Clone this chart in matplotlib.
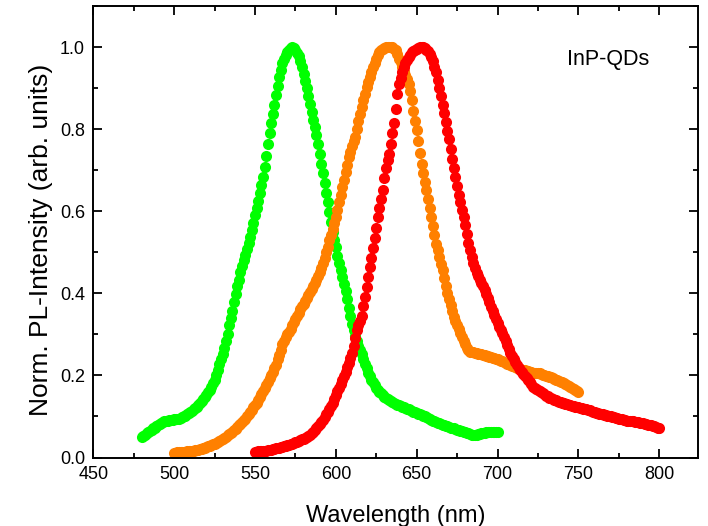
import numpy as np
import matplotlib
matplotlib.use("Agg")
import matplotlib.pyplot as plt
from matplotlib.ticker import MultipleLocator, FormatStrFormatter

plt.rcParams['font.family'] = ['Liberation Sans', 'DejaVu Sans']

# Normalised PL spectra of three InP quantum-dot samples (1 nm steps)
wl_green = np.arange(480, 701)
pl_green = [
    0.050, 0.053, 0.056, 0.059, 0.062, 0.065, 0.068, 0.071, 0.073, 0.076,
    0.078, 0.081, 0.084, 0.087, 0.088, 0.089, 0.090, 0.091, 0.092, 0.092,
    0.093, 0.093, 0.094, 0.095, 0.096, 0.098, 0.100, 0.102, 0.105, 0.108,
    0.111, 0.114, 0.117, 0.120, 0.124, 0.128, 0.133, 0.138, 0.143, 0.148,
    0.153, 0.159, 0.165, 0.172, 0.181, 0.190, 0.200, 0.213, 0.227, 0.240,
    0.253, 0.268, 0.285, 0.302, 0.322, 0.340, 0.358, 0.378, 0.398, 0.418,
    0.432, 0.452, 0.466, 0.480, 0.494, 0.508, 0.522, 0.538, 0.555, 0.572,
    0.590, 0.607, 0.625, 0.645, 0.664, 0.684, 0.708, 0.735, 0.765, 0.790,
    0.815, 0.838, 0.860, 0.883, 0.905, 0.926, 0.945, 0.960, 0.972, 0.981,
    0.988, 0.994, 0.998, 1.000, 0.998, 0.993, 0.986, 0.978, 0.966, 0.951,
    0.935, 0.918, 0.900, 0.881, 0.862, 0.842, 0.822, 0.804, 0.785, 0.763,
    0.740, 0.716, 0.692, 0.668, 0.645, 0.622, 0.598, 0.574, 0.550, 0.531,
    0.512, 0.492, 0.473, 0.456, 0.440, 0.422, 0.405, 0.385, 0.365, 0.345,
    0.325, 0.310, 0.295, 0.283, 0.272, 0.262, 0.252, 0.240, 0.228, 0.217,
    0.207, 0.198, 0.190, 0.183, 0.176, 0.170, 0.165, 0.160, 0.156, 0.152,
    0.148, 0.145, 0.142, 0.140, 0.137, 0.135, 0.133, 0.131, 0.129, 0.127,
    0.125, 0.123, 0.122, 0.120, 0.118, 0.117, 0.115, 0.113, 0.112, 0.110,
    0.108, 0.106, 0.105, 0.103, 0.102, 0.100, 0.098, 0.096, 0.094, 0.092,
    0.090, 0.088, 0.087, 0.085, 0.083, 0.082, 0.080, 0.079, 0.077, 0.076,
    0.075, 0.073, 0.072, 0.071, 0.069, 0.068, 0.067, 0.065, 0.064, 0.062,
    0.061, 0.060, 0.059, 0.058, 0.056, 0.055, 0.055, 0.056, 0.057, 0.058,
    0.059, 0.059, 0.060, 0.061, 0.061, 0.062, 0.062, 0.062, 0.063, 0.063, 0.063,
]

wl_orange = np.arange(500, 751)
pl_orange = [
    0.012, 0.012, 0.013, 0.013, 0.013, 0.014, 0.014, 0.014, 0.015, 0.015,
    0.016, 0.016, 0.017, 0.018, 0.018, 0.019, 0.020, 0.021, 0.022, 0.024,
    0.025, 0.027, 0.028, 0.030, 0.032, 0.034, 0.036, 0.038, 0.041, 0.043,
    0.045, 0.048, 0.051, 0.054, 0.057, 0.060, 0.063, 0.066, 0.070, 0.074,
    0.078, 0.082, 0.086, 0.091, 0.095, 0.100, 0.105, 0.110, 0.116, 0.122,
    0.128, 0.134, 0.141, 0.148, 0.155, 0.162, 0.169, 0.177, 0.185, 0.193,
    0.201, 0.209, 0.217, 0.226, 0.240, 0.250, 0.262, 0.276, 0.285, 0.293,
    0.300, 0.307, 0.314, 0.322, 0.329, 0.337, 0.345, 0.353, 0.361, 0.368,
    0.375, 0.382, 0.389, 0.396, 0.403, 0.410, 0.417, 0.424, 0.433, 0.442,
    0.452, 0.462, 0.473, 0.486, 0.500, 0.514, 0.529, 0.543, 0.557, 0.571,
    0.586, 0.604, 0.622, 0.640, 0.659, 0.677, 0.695, 0.713, 0.732, 0.745,
    0.760, 0.772, 0.781, 0.800, 0.820, 0.838, 0.855, 0.870, 0.886, 0.903,
    0.915, 0.927, 0.940, 0.951, 0.961, 0.970, 0.980, 0.988, 0.993, 0.996,
    0.998, 1.000, 1.000, 1.000, 1.000, 0.999, 0.996, 0.992, 0.984, 0.972,
    0.963, 0.952, 0.942, 0.931, 0.921, 0.911, 0.892, 0.870, 0.845, 0.821,
    0.797, 0.770, 0.743, 0.716, 0.694, 0.672, 0.651, 0.629, 0.608, 0.586,
    0.565, 0.543, 0.521, 0.505, 0.489, 0.472, 0.456, 0.437, 0.418, 0.400,
    0.386, 0.372, 0.357, 0.343, 0.333, 0.323, 0.313, 0.303, 0.294, 0.285,
    0.276, 0.268, 0.261, 0.258, 0.257, 0.256, 0.255, 0.254, 0.253, 0.252,
    0.251, 0.250, 0.249, 0.248, 0.247, 0.246, 0.245, 0.243, 0.242, 0.240,
    0.239, 0.237, 0.235, 0.234, 0.232, 0.230, 0.229, 0.227, 0.226, 0.224,
    0.223, 0.221, 0.219, 0.218, 0.216, 0.214, 0.213, 0.212, 0.211, 0.210,
    0.209, 0.208, 0.207, 0.207, 0.206, 0.206, 0.205, 0.204, 0.202, 0.201,
    0.199, 0.198, 0.196, 0.195, 0.193, 0.192, 0.190, 0.189, 0.187, 0.185,
    0.183, 0.181, 0.179, 0.177, 0.174, 0.172, 0.170, 0.168, 0.165, 0.163, 0.160,
]

wl_red = np.arange(550, 801)
pl_red = [
    0.014, 0.014, 0.015, 0.015, 0.016, 0.016, 0.017, 0.017, 0.018, 0.019,
    0.019, 0.020, 0.021, 0.022, 0.023, 0.024, 0.025, 0.026, 0.027, 0.029,
    0.030, 0.031, 0.032, 0.034, 0.035, 0.037, 0.038, 0.040, 0.042, 0.044,
    0.046, 0.048, 0.050, 0.052, 0.055, 0.059, 0.063, 0.067, 0.072, 0.077,
    0.082, 0.086, 0.091, 0.098, 0.105, 0.112, 0.119, 0.126, 0.133, 0.143,
    0.152, 0.161, 0.170, 0.179, 0.188, 0.198, 0.209, 0.220, 0.231, 0.243,
    0.254, 0.272, 0.291, 0.310, 0.322, 0.333, 0.345, 0.368, 0.391, 0.415,
    0.440, 0.464, 0.487, 0.511, 0.535, 0.559, 0.586, 0.608, 0.630, 0.651,
    0.680, 0.705, 0.725, 0.740, 0.765, 0.790, 0.815, 0.850, 0.885, 0.910,
    0.925, 0.940, 0.951, 0.960, 0.968, 0.975, 0.981, 0.987, 0.991, 0.994,
    0.996, 0.998, 0.999, 1.000, 0.999, 0.997, 0.994, 0.990, 0.984, 0.976,
    0.965, 0.952, 0.938, 0.920, 0.900, 0.880, 0.860, 0.840, 0.818, 0.796,
    0.775, 0.752, 0.728, 0.705, 0.683, 0.662, 0.640, 0.622, 0.604, 0.586,
    0.567, 0.545, 0.522, 0.505, 0.488, 0.474, 0.462, 0.450, 0.441, 0.433,
    0.425, 0.417, 0.408, 0.399, 0.389, 0.378, 0.367, 0.357, 0.347, 0.337,
    0.327, 0.319, 0.311, 0.303, 0.294, 0.284, 0.274, 0.264, 0.254, 0.247,
    0.240, 0.233, 0.226, 0.219, 0.213, 0.208, 0.203, 0.198, 0.193, 0.188,
    0.183, 0.178, 0.173, 0.170, 0.167, 0.164, 0.161, 0.159, 0.156, 0.154,
    0.151, 0.149, 0.146, 0.144, 0.142, 0.141, 0.139, 0.138, 0.136, 0.135,
    0.134, 0.133, 0.131, 0.130, 0.129, 0.128, 0.126, 0.125, 0.124, 0.123,
    0.122, 0.121, 0.120, 0.119, 0.118, 0.117, 0.116, 0.115, 0.113, 0.112,
    0.110, 0.109, 0.108, 0.107, 0.106, 0.105, 0.104, 0.103, 0.102, 0.101,
    0.100, 0.099, 0.098, 0.097, 0.096, 0.095, 0.094, 0.093, 0.092, 0.091,
    0.090, 0.090, 0.089, 0.088, 0.088, 0.087, 0.087, 0.086, 0.085, 0.084,
    0.083, 0.082, 0.081, 0.080, 0.079, 0.078, 0.077, 0.076, 0.075, 0.073, 0.071,
]

series = [
    (wl_green, pl_green, '#00ff00'),
    (wl_orange, pl_orange, '#ff8000'),
    (wl_red, pl_red, '#ff0000'),
]

fig = plt.figure(figsize=(7.08, 5.26), dpi=100)
ax = fig.add_axes([0.1318, 0.1302, 0.8541, 0.8584])

for wl, pl, col in series:
    ax.plot(wl, pl, linestyle='none', marker='o', markersize=8.0,
            markerfacecolor=col, markeredgewidth=0)

ax.set_xlim(450, 824)
ax.set_ylim(0, 1.1)
ax.xaxis.set_major_locator(MultipleLocator(50))
ax.xaxis.set_minor_locator(MultipleLocator(25))
ax.yaxis.set_major_locator(MultipleLocator(0.2))
ax.yaxis.set_minor_locator(MultipleLocator(0.1))
ax.yaxis.set_major_formatter(FormatStrFormatter('%.1f'))

ax.tick_params(which='both', direction='in', top=True, right=True,
               width=1.3, labelsize=13, pad=6, colors='black')
ax.tick_params(which='major', length=6.5)
ax.tick_params(which='minor', length=3.6)
for sp in ax.spines.values():
    sp.set_linewidth(1.4)

ax.set_xlabel('Wavelength (nm)', fontsize=17, labelpad=16)
ax.set_ylabel('Norm. PL-Intensity (arb. units)', fontsize=19)
ax.yaxis.set_label_coords(-0.066, 0.482)

ax.text(768.5, 0.970, 'InP-QDs', fontsize=15.5, ha='center', va='center')

fig.savefig('out.png', dpi=100)
